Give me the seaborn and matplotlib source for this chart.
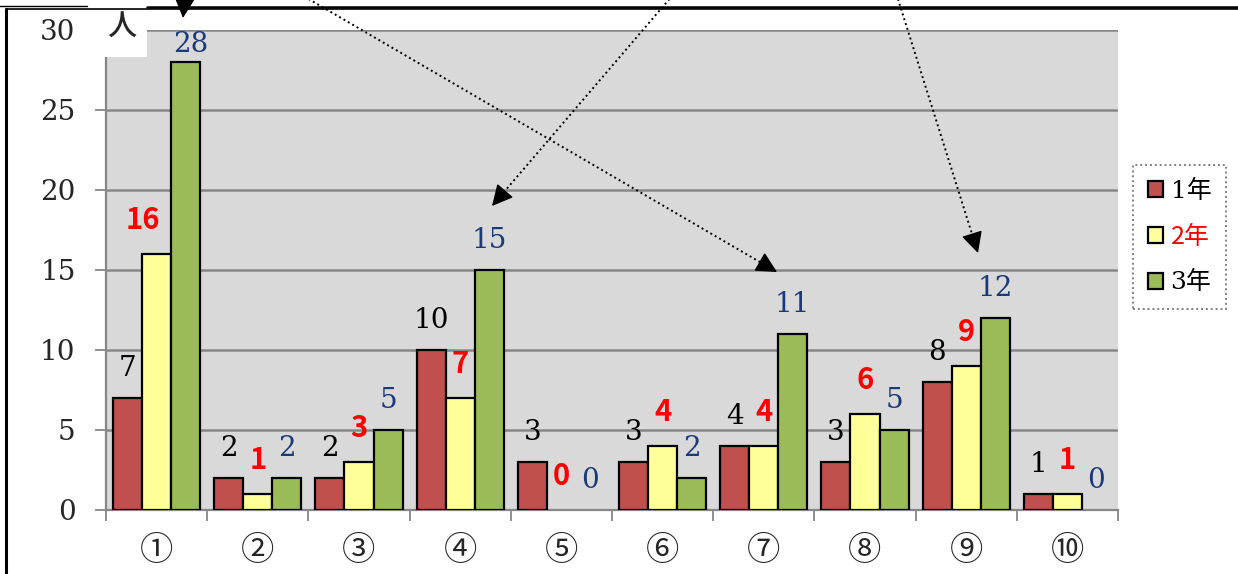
import numpy as np
import pandas as pd
import matplotlib
matplotlib.use("Agg")
import matplotlib.pyplot as plt
import seaborn as sns
from matplotlib.lines import Line2D
from matplotlib.patches import Rectangle

# ---- data ----
categories = ["①", "②", "③", "④", "⑤", "⑥", "⑦", "⑧", "⑨", "⑩"]
grades = ["1年", "2年", "3年"]
grade1 = [7, 2, 2, 10, 3, 3, 4, 3, 8, 1]
grade2 = [16, 1, 3, 7, 0, 4, 4, 6, 9, 1]
grade3 = [28, 2, 5, 15, 0, 2, 11, 5, 12, 0]
yticks = [0, 5, 10, 15, 20, 25, 30]
y_unit = "人"

df = pd.DataFrame({
    "item": categories * 3,
    "grade": np.repeat(grades, len(categories)),
    "count": grade1 + grade2 + grade3,
})

sns.set_theme(style="white")
SERIF = ["DejaVu Serif", "Noto Sans CJK JP"]
GOTHIC = ["Noto Sans CJK JP", "DejaVu Sans"]
plt.rcParams["font.family"] = SERIF

W, H = 1238, 574
fig = plt.figure(figsize=(W / 100, H / 100), dpi=100)
fig.patch.set_facecolor("white")
ax = fig.add_axes([106 / W, 64 / H, 1012 / W, 480 / H])

palette = {"1年": "#C0504D", "2年": "#FFFF99", "3年": "#9BBB59"}
sns.barplot(data=df, x="item", y="count", hue="grade", order=categories,
            hue_order=grades, palette=palette, width=0.86, saturation=1,
            edgecolor="black", linewidth=1.6, errorbar=None, legend=False,
            ax=ax, zorder=3)

# ---- axes styling ----
GRID = "#878787"
ax.set_facecolor("#D9D9D9")
ax.set_axisbelow(True)
ax.yaxis.grid(True, color=GRID, lw=1.8)
ax.xaxis.grid(False)
ax.set_ylim(0, 30)
ax.set_yticks(yticks)
ax.set_xlim(-0.5, len(categories) - 0.5)
ax.set_xticks(np.arange(-0.5, len(categories), 1), minor=True)
ax.set_xlabel("")
ax.set_ylabel("")
for side in ("top", "right"):
    ax.spines[side].set_visible(False)
for side in ("left", "bottom"):
    ax.spines[side].set_color(GRID)
    ax.spines[side].set_linewidth(1.6)
ax.tick_params(axis="y", length=8, width=1.3, color=GRID, pad=14,
               labelsize=20, direction="out", left=True)
ax.tick_params(axis="x", which="major", length=0, pad=18, labelsize=24)
ax.tick_params(axis="x", which="minor", length=8, width=1.3, color=GRID,
               direction="out", bottom=True)

# ---- value labels ----
label_styles = [
    dict(color="black", family=SERIF, fontsize=20, off=30),
    dict(color="#FF0000", family=GOTHIC, fontsize=21, fontweight="bold", off=34),
    dict(color="#1B3A7A", family=SERIF, fontsize=20, off=30),
]
label_nudge = {(1, 0): -14, (2, 0): 5}
px_per_unit = ax.bbox.height / 30.0
top_limit = 29.1
for si, (cont, vals, st) in enumerate(zip(ax.containers, [grade1, grade2, grade3], label_styles)):
    st = dict(st)
    off = st.pop("off")
    for ci, (bar, v) in enumerate(zip(cont.patches, vals)):
        if v == 0:
            bar.set_linewidth(0)
        x = bar.get_x() + bar.get_width() / 2
        dy = min(off, (top_limit - v) * px_per_unit)
        ax.annotate(str(v), xy=(x, v), xytext=(label_nudge.get((si, ci), 0), dy),
                    textcoords="offset pixels", ha="center", va="center",
                    annotation_clip=False, zorder=5, **st)

# ---- legend ----
handles = [Rectangle((0, 0), 1, 1, facecolor=palette[g], edgecolor="black", lw=1.6)
           for g in grades]
leg = ax.legend(handles, grades, loc="center left",
                bbox_to_anchor=(1133 / W, (H - 237) / H), bbox_transform=fig.transFigure,
                frameon=True, fancybox=False, fontsize=18, handlelength=0.6,
                handleheight=0.6, handletextpad=0.3, labelspacing=0.85,
                borderpad=0.6, borderaxespad=0)
frame = leg.get_frame()
frame.set_edgecolor("#808080")
frame.set_linestyle((0, (1, 1.5)))
frame.set_linewidth(1.4)
frame.set_facecolor("white")
frame.set_alpha(1)
for t, c in zip(leg.get_texts(), ["black", "#FF0000", "black"]):
    t.set_color(c)
leg.get_texts()[1].set_family(GOTHIC)

# ---- unit box and page frame ----
fig.add_artist(Rectangle((90 / W, (H - 57) / H), 57 / W, 47 / H, transform=fig.transFigure,
                         facecolor="white", edgecolor="none", zorder=2))
fig.text(122 / W, (H - 27) / H, y_unit, family=GOTHIC, fontsize=21, fontweight="medium",
         ha="center", va="center", zorder=4)
fig.add_artist(Line2D([6 / W, 6 / W], [0, (H - 9) / H], transform=fig.transFigure,
                      color="black", lw=2.2, zorder=4))
fig.add_artist(Line2D([6 / W, 1], [(H - 9) / H] * 2, transform=fig.transFigure,
                      color="black", lw=1.2, zorder=4))
fig.add_artist(Line2D([0, 87 / W], [(H - 6) / H] * 2, transform=fig.transFigure,
                      color="black", lw=1.0, zorder=4))
fig.add_artist(Line2D([147 / W, 1], [(H - 6.5) / H] * 2, transform=fig.transFigure,
                      color="black", lw=1.8, zorder=4))

# ---- dotted callout arrows (dotted shaft + solid head) ----
arrow_paths = [((188, -40), (183, 18)), ((300, -6), (777, 272)),
               ((672, -4), (492, 206)), ((897, -4), (978, 253))]
head_len = 13
for (x0, y0), (x1, y1) in arrow_paths:
    sx, sy, ex, ey = x0, H - y0, x1, H - y1
    d = np.hypot(ex - sx, ey - sy)
    ux, uy = (ex - sx) / d, (ey - sy) / d
    bx, by = ex - ux * head_len, ey - uy * head_len
    fig.add_artist(Line2D([sx / W, bx / W], [sy / H, by / H], transform=fig.transFigure,
                          color="black", lw=1.4, linestyle=(0, (1, 1.6)), zorder=6))
    ax.annotate("", xy=(ex, ey), xycoords="figure pixels",
                xytext=(bx, by), textcoords="figure pixels",
                arrowprops=dict(arrowstyle="-|>,head_length=0.65,head_width=0.33",
                                lw=1.0, color="black", mutation_scale=20,
                                shrinkA=0, shrinkB=0),
                annotation_clip=False, zorder=6)

fig.savefig("out.png", dpi=100, facecolor="white")
